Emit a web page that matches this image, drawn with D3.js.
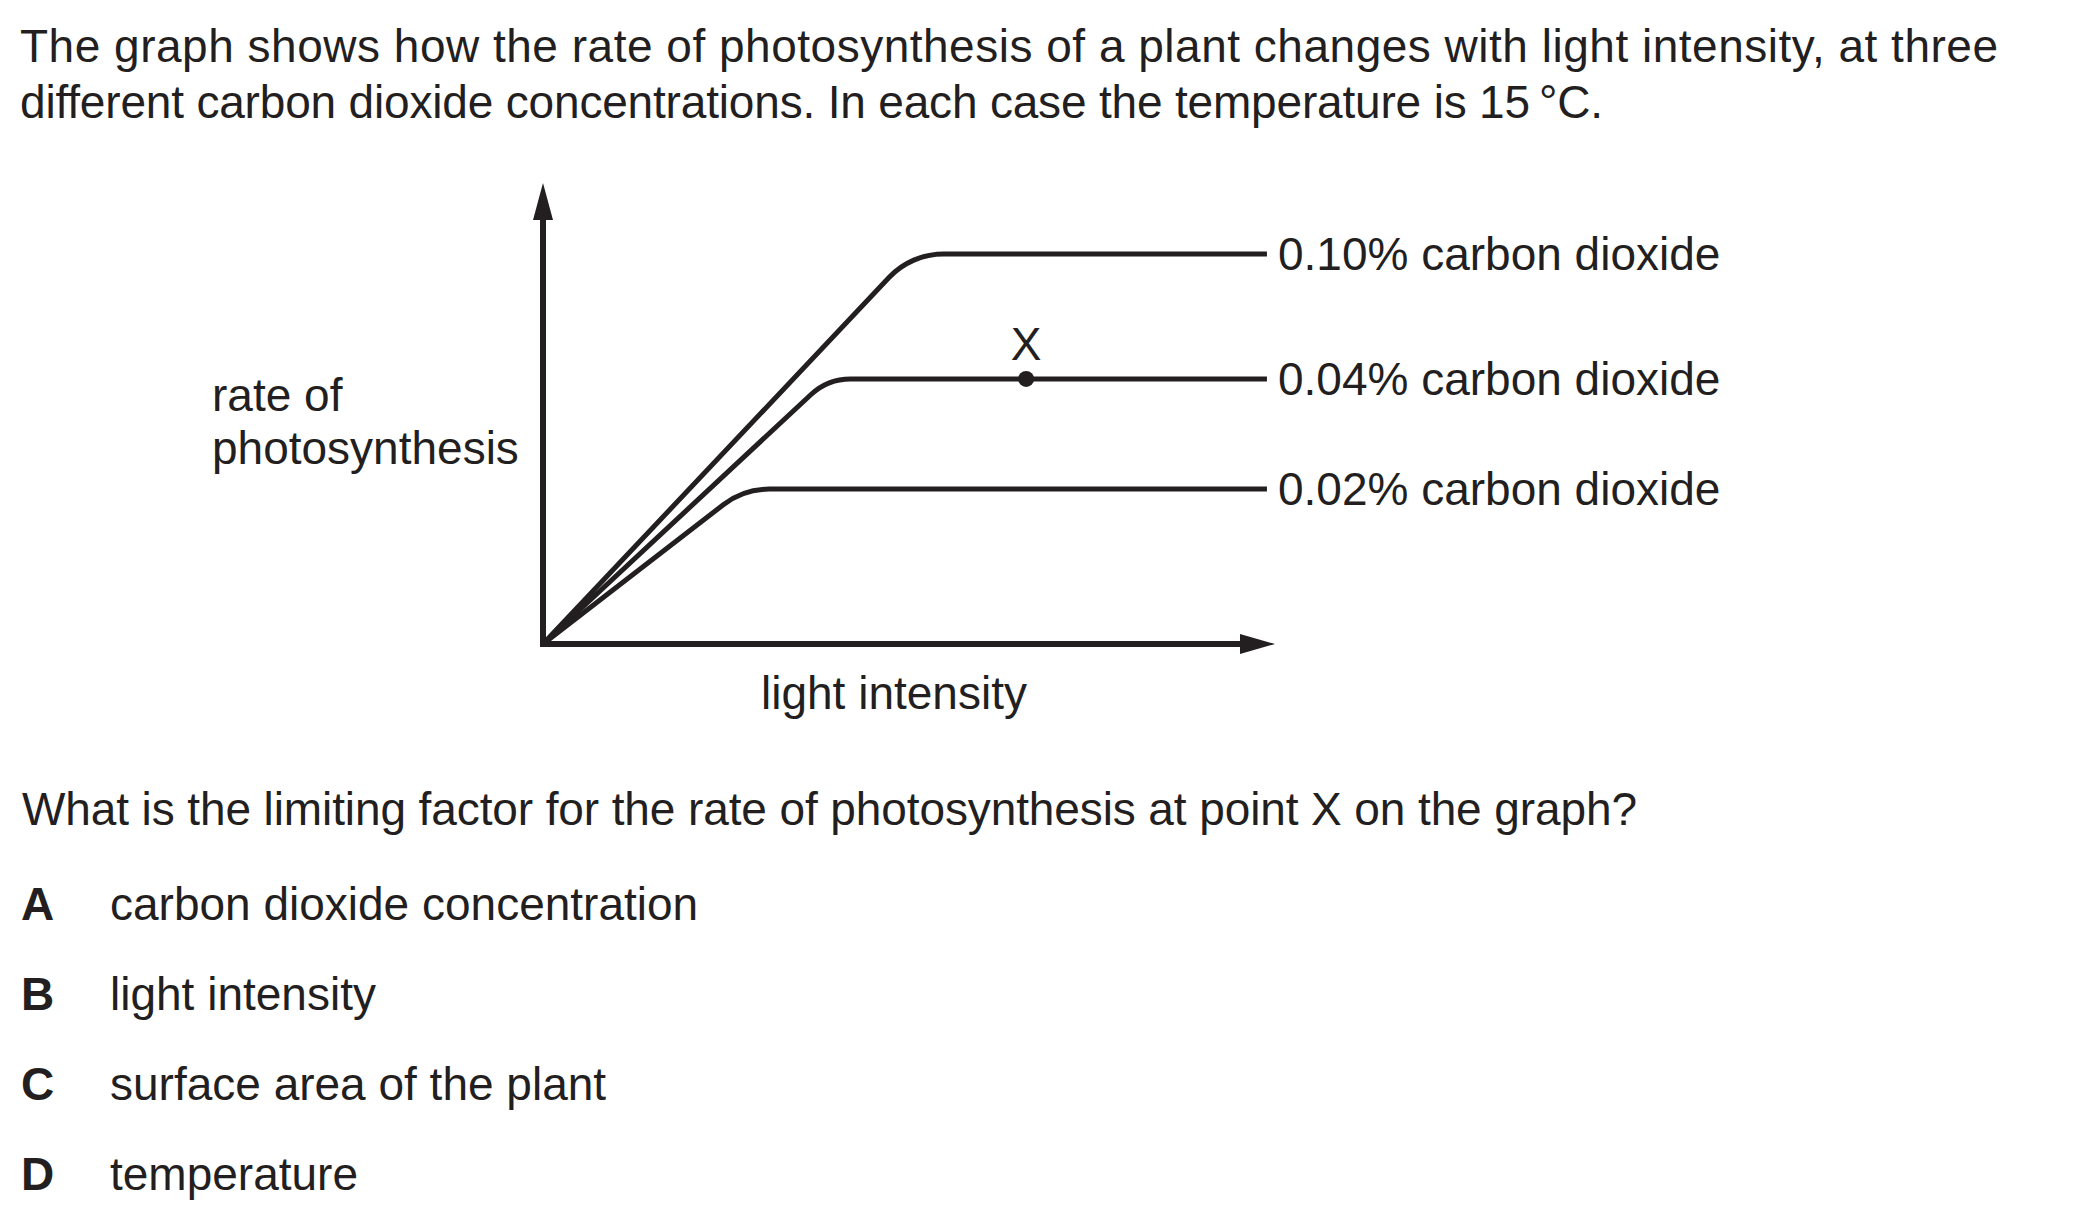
<!DOCTYPE html>
<html>
<head>
<meta charset="utf-8">
<script src="https://cdn.jsdelivr.net/npm/d3@7"></script>
<style>
  html, body { margin: 0; padding: 0; background: #ffffff; }
  svg { display: block; }
  text { font-family: "Liberation Sans", Arial, Helvetica, sans-serif; fill: #231f20; }
</style>
</head>
<body>
<script>
// ---- data ----
const introLines = [
  "The graph shows how the rate of photosynthesis of a plant changes with light intensity, at three",
  "different carbon dioxide concentrations. In each case the temperature is 15\u2009\u00B0C."
];
const seriesLabels = ["0.10% carbon dioxide", "0.04% carbon dioxide", "0.02% carbon dioxide"];
const plateauRates = [84.6, 57.5, 33.6];      // rate of photosynthesis at plateau
const saturationLight = [50.3, 38.9, 27.4];   // light intensity where the slope meets the plateau
const maxLight = [98.9, 98.9, 98.9];          // last light intensity drawn
const pointXLight = 66.0;                     // light intensity of point X
const pointXSeries = 1;                       // on the 0.04% curve
const pointXLabel = "X";
const yAxisLabel = ["rate of", "photosynthesis"];
const xAxisLabel = "light intensity";
const questionText = "What is the limiting factor for the rate of photosynthesis at point X on the graph?";
const optionLetters = ["A", "B", "C", "D"];
const optionTexts = ["carbon dioxide concentration", "light intensity", "surface area of the plant", "temperature"];

// ---- layout ----
const W = 2100, H = 1223;
const ink = "#231f20";
const svg = d3.select("body").append("svg").attr("width", W).attr("height", H);
svg.append("rect").attr("width", W).attr("height", H).attr("fill", "#fff");

const x = d3.scaleLinear().domain([0, 100]).range([543, 1275]);
const y = d3.scaleLinear().domain([0, 100]).range([644, 183]);

// intro text
const introWidths = [1978, 1583];
svg.selectAll("text.intro").data(introLines).join("text")
  .attr("class", "intro")
  .attr("x", 20).attr("y", (d, i) => 62 + i * 56)
  .attr("font-size", 46)
  .attr("textLength", (d, i) => introWidths[i])
  .attr("lengthAdjust", "spacing")
  .text(d => d);

// axes
const g = svg.append("g");
g.append("line").attr("x1", x(0)).attr("x2", x(0)).attr("y1", y(0) + 3).attr("y2", y(100) + 34)
  .attr("stroke", ink).attr("stroke-width", 6);
g.append("path")
  .attr("d", `M${x(0)},${y(100)} L${x(0) + 10},${y(100) + 37} L${x(0) - 10},${y(100) + 37} Z`)
  .attr("fill", ink);
g.append("line").attr("x1", x(0) - 3).attr("x2", x(100) - 32).attr("y1", y(0)).attr("y2", y(0))
  .attr("stroke", ink).attr("stroke-width", 6);
g.append("path")
  .attr("d", `M${x(100)},${y(0)} L${x(100) - 35},${y(0) - 10} L${x(100) - 35},${y(0) + 10} Z`)
  .attr("fill", ink);

// curves with rounded saturation corner
const cornerRadius = [75, 58, 75];
plateauRates.forEach((p, i) => {
  const path = d3.path();
  path.moveTo(x(0), y(0));
  path.arcTo(x(saturationLight[i]), y(p), x(maxLight[i]), y(p), cornerRadius[i]);
  path.lineTo(x(maxLight[i]), y(p));
  g.append("path").attr("d", path.toString())
    .attr("fill", "none").attr("stroke", ink).attr("stroke-width", 5)
    .attr("stroke-linejoin", "round");
  g.append("text")
    .attr("x", x(maxLight[i]) + 11).attr("y", y(p) + 16)
    .attr("font-size", 46)
    .text(seriesLabels[i]);
});

// point X
g.append("circle").attr("cx", x(pointXLight)).attr("cy", y(plateauRates[pointXSeries]))
  .attr("r", 8).attr("fill", ink);
g.append("text").attr("x", x(pointXLight)).attr("y", y(plateauRates[pointXSeries]) - 19)
  .attr("text-anchor", "middle").attr("font-size", 46).text(pointXLabel);

// axis labels
g.selectAll("text.ylab").data(yAxisLabel).join("text")
  .attr("class", "ylab")
  .attr("x", 212).attr("y", (d, i) => 411 + i * 53)
  .attr("font-size", 46).text(d => d);
g.append("text").attr("x", 761).attr("y", 709).attr("font-size", 46).text(xAxisLabel);

// question and options
svg.append("text").attr("x", 22).attr("y", 825).attr("font-size", 46)
  .attr("textLength", 1615).attr("lengthAdjust", "spacing").text(questionText);
const opts = svg.selectAll("g.opt").data(optionLetters).join("g").attr("class", "opt");
opts.append("text").attr("x", 21).attr("y", (d, i) => 920 + i * 90)
  .attr("font-size", 46).attr("font-weight", "bold").text(d => d);
opts.append("text").attr("x", 110).attr("y", (d, i) => 920 + i * 90)
  .attr("font-size", 46).text((d, i) => optionTexts[i]);
</script>
</body>
</html>
